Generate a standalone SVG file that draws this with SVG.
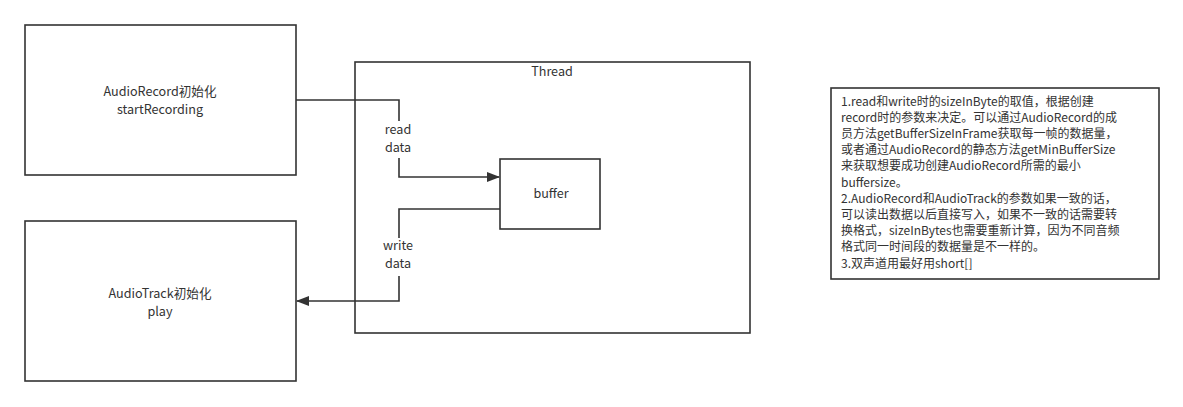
<svg xmlns="http://www.w3.org/2000/svg" width="1183" height="407" viewBox="0 0 1183 407">
<defs>
<style>
.box{fill:#fff;stroke:#333;stroke-width:1.6}
.ln{fill:none;stroke:#333;stroke-width:1.6}
.t{font-family:"Noto Sans CJK SC","Noto Sans",sans-serif;font-size:12px;fill:#333}
.l{font-size:12.6px}
.c{text-anchor:middle}
</style>
<marker id="ah" markerWidth="13" markerHeight="11" refX="12" refY="5.5" orient="auto" markerUnits="userSpaceOnUse">
<path d="M0,0.5 L13,5.5 L0,10.5 Z" fill="#333"/>
</marker>
</defs>
<rect width="1183" height="407" fill="#fff"/>
<g id="thread">
<rect class="box" x="355" y="62" width="395" height="271"/>
<text class="t l c" x="552" y="76">Thread</text>
</g>
<g id="audiorecord">
<rect class="box" x="25" y="25" width="271" height="150"/>
<text class="t l c" x="160" y="96">AudioRecord初始化</text>
<text class="t l c" x="160" y="114">startRecording</text>
</g>
<g id="audiotrack">
<rect class="box" x="25" y="221" width="271" height="160"/>
<text class="t l c" x="160" y="298">AudioTrack初始化</text>
<text class="t l c" x="160" y="316">play</text>
</g>
<g id="buffer">
<rect class="box" x="500" y="159" width="100" height="70"/>
<text class="t l c" x="551" y="198">buffer</text>
</g>
<g id="connectors">
<path class="ln" d="M296,100 H399 V121 M399,158 V177 H499" marker-end="url(#ah)"/>
<text class="t l c" x="398" y="134">read</text>
<text class="t l c" x="398" y="152">data</text>
<path class="ln" d="M500,209 H399 V238 M399,276 V301 H297" marker-end="url(#ah)"/>
<text class="t l c" x="398" y="250">write</text>
<text class="t l c" x="398" y="268">data</text>
</g>
<g id="note">
<rect class="box" x="831" y="88" width="328" height="191"/>
<text class="t" x="841" y="106">1.read和write时的sizeInByte的取值，根据创建</text>
<text class="t" x="841" y="122">record时的参数来决定。可以通过AudioRecord的成</text>
<text class="t" x="841" y="138">员方法getBufferSizeInFrame获取每一帧的数据量，</text>
<text class="t" x="841" y="154">或者通过AudioRecord的静态方法getMinBufferSize</text>
<text class="t" x="841" y="170">来获取想要成功创建AudioRecord所需的最小</text>
<text class="t" x="841" y="187">buffersize。</text>
<text class="t" x="841" y="203">2.AudioRecord和AudioTrack的参数如果一致的话，</text>
<text class="t" x="841" y="219">可以读出数据以后直接写入，如果不一致的话需要转</text>
<text class="t" x="841" y="235">换格式，sizeInBytes也需要重新计算，因为不同音频</text>
<text class="t" x="841" y="251">格式同一时间段的数据量是不一样的。</text>
<text class="t" x="841" y="268">3.双声道用最好用short[]</text>
</g>
</svg>
